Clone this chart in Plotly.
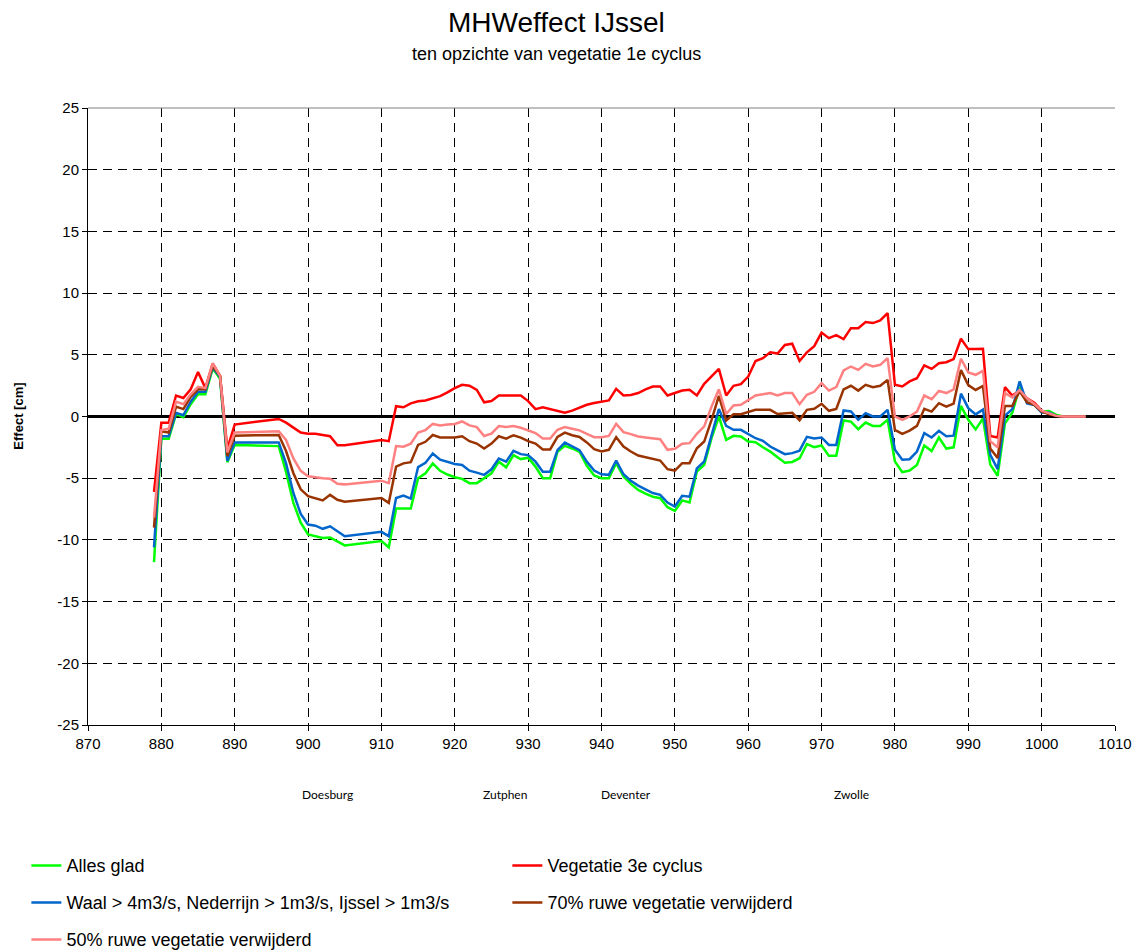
import plotly.graph_objects as go

# ---------------- data ----------------
km = [879, 880, 881, 882, 883, 884, 885, 886, 887, 888, 889, 890,
      896, 897, 898, 899, 900, 901, 902, 903, 904, 905,
      910, 911, 912, 913, 914, 915, 916, 917, 918, 919,
      920, 921, 922, 923, 924, 925, 926, 927, 928, 929,
      930, 931, 932, 933, 934, 935, 936, 937, 938, 939,
      940, 941, 942, 943, 944, 945, 946, 947, 948, 949,
      950, 951, 952, 953, 954, 955, 956, 957, 958, 959,
      960, 961, 962, 963, 964, 965, 966, 967, 968, 969,
      970, 971, 972, 973, 974, 975, 976, 977, 978, 979,
      980, 981, 982, 983, 984, 985, 986, 987, 988, 989,
      990, 991, 992, 993, 994, 995, 996, 997, 998, 999,
      1000, 1001, 1002, 1003, 1004, 1005, 1006]

alles_glad = [-11.8, -1.8, -1.8, 0.2, -0.05, 1.0, 1.8, 1.8, 3.9, 3.05, -3.7, -2.3,
              -2.4, -4.5, -7.0, -8.6, -9.55, -9.7, -9.85, -9.8, -10.1, -10.45,
              -10.1, -10.6, -7.45, -7.45, -7.45, -5.0, -4.6, -3.8, -4.4, -4.7,
              -4.92, -5.05, -5.4, -5.4, -5.0, -4.6, -3.66, -4.12, -3.13, -3.45,
              -3.34, -4.06, -5.0, -5.0, -2.86, -2.38, -2.59, -2.86, -4.0, -4.78,
              -5.0, -5.0, -3.78, -4.86, -5.46, -5.95, -6.25, -6.5, -6.62, -7.35,
              -7.65, -6.8, -6.97, -4.46, -3.92, -1.76, 0.0, -1.89, -1.57, -1.62,
              -2.03, -2.08, -2.49, -2.84, -3.3, -3.75, -3.68, -3.38, -2.23, -2.49,
              -2.35, -3.19, -3.19, -0.32, -0.41, -1.03, -0.49, -0.76, -0.76, -0.27,
              -3.65, -4.51, -4.38, -3.92, -2.35, -2.8, -1.7, -2.6, -2.5, 0.86,
              -0.27, -1.05, -0.16, -3.9, -4.8, -0.56, 0.3, 2.4, 1.15, 0.94,
              0.4, 0.45, 0.13, 0.0, 0.0, 0.0, 0.0]

vegetatie_3e = [-6.1, -0.5, -0.5, 1.7, 1.5, 2.2, 3.6, 2.3, 4.3, 3.3, -2.6, -0.65,
                -0.2, -0.5, -0.9, -1.3, -1.4, -1.4, -1.5, -1.6, -2.33, -2.33,
                -1.9, -2.0, 0.83, 0.75, 1.07, 1.23, 1.3, 1.45, 1.65, 1.95,
                2.3, 2.57, 2.5, 2.15, 1.15, 1.25, 1.7, 1.7, 1.7, 1.7,
                1.25, 0.6, 0.75, 0.6, 0.43, 0.3, 0.48, 0.7, 0.95, 1.1,
                1.2, 1.3, 2.24, 1.7, 1.75, 1.9, 2.2, 2.43, 2.43, 1.7,
                1.9, 2.1, 2.16, 1.7, 2.65, 3.24, 3.86, 1.7, 2.49, 2.62,
                3.24, 4.5, 4.73, 5.2, 5.1, 5.8, 5.9, 4.5, 5.2, 5.7,
                6.8, 6.35, 6.6, 6.27, 7.16, 7.16, 7.65, 7.57, 7.78, 8.38,
                2.57, 2.43, 2.84, 3.1, 4.14, 3.86, 4.32, 4.4, 4.65, 6.3,
                5.46, 5.46, 5.49, -1.57, -1.7, 2.38, 1.7, 2.1, 1.48, 1.12,
                0.48, 0.21, 0.05, 0.0, 0.0, 0.0, 0.0]

waal = [-10.6, -1.6, -1.6, 0.3, 0.1, 1.2, 2.0, 2.0, 4.0, 3.2, -3.6, -2.1,
        -2.1, -3.8, -6.2, -7.9, -8.75, -8.85, -9.1, -8.9, -9.3, -9.7,
        -9.35, -9.7, -6.6, -6.4, -6.65, -4.1, -3.75, -3.0, -3.5, -3.7,
        -3.85, -3.93, -4.39, -4.55, -4.73, -4.28, -3.4, -3.66, -2.78, -3.05,
        -3.13, -3.66, -4.47, -4.47, -2.73, -2.11, -2.41, -2.73, -3.66, -4.38,
        -4.68, -4.73, -3.57, -4.68, -5.2, -5.6, -5.9, -6.2, -6.35, -6.97,
        -7.3, -6.43, -6.5, -4.2, -3.65, -1.57, 0.6, -0.76, -1.08, -1.08,
        -1.4, -1.76, -1.97, -2.43, -2.75, -3.05, -2.97, -2.77, -1.65, -1.78,
        -1.7, -2.3, -2.3, 0.49, 0.41, -0.27, 0.27, 0.0, 0.0, 0.54,
        -2.7, -3.51, -3.46, -2.84, -1.35, -1.7, -1.16, -1.6, -1.55, 1.85,
        0.68, 0.17, 0.56, -3.1, -4.27, 0.07, 0.6, 2.85, 1.06, 0.94,
        0.32, 0.32, 0.05, 0.0, 0.0, 0.0, 0.0]

ruw_70 = [-9.0, -1.2, -1.3, 0.8, 0.6, 1.6, 2.2, 2.2, 4.1, 3.3, -3.2, -1.55,
          -1.5, -2.8, -4.6, -5.9, -6.45, -6.6, -6.8, -6.35, -6.75, -6.9,
          -6.6, -7.0, -4.06, -3.8, -3.7, -2.3, -2.05, -1.5, -1.7, -1.7,
          -1.71, -1.6, -2.0, -2.19, -2.59, -2.19, -1.6, -1.79, -1.52, -1.71,
          -2.0, -2.19, -2.67, -2.67, -1.66, -1.31, -1.52, -1.66, -2.1, -2.65,
          -2.84, -2.7, -1.68, -2.43, -2.84, -3.16, -3.3, -3.4, -3.57, -4.27,
          -4.38, -3.78, -3.78, -2.57, -2.03, -0.27, 1.68, -0.32, 0.19, 0.19,
          0.35, 0.54, 0.54, 0.54, 0.2, 0.22, 0.3, -0.3, 0.54, 0.62,
          1.03, 0.46, 0.62, 2.2, 2.49, 2.1, 2.57, 2.38, 2.49, 2.97,
          -1.08, -1.4, -1.14, -0.76, 0.62, 0.4, 1.08, 0.8, 1.05, 3.76,
          2.55, 2.15, 2.47, -2.6, -3.36, 0.86, 0.86, 2.05, 1.15, 0.94,
          0.4, 0.2, 0.05, 0.0, 0.0, 0.0, 0.0]

ruw_50 = [-8.2, -1.1, -1.0, 1.2, 1.0, 1.8, 2.4, 2.3, 4.3, 3.3, -2.9, -1.3,
          -1.2, -1.9, -3.4, -4.4, -4.85, -4.95, -5.0, -5.05, -5.45, -5.5,
          -5.2, -5.4, -2.4, -2.45, -2.2, -1.3, -1.1, -0.6, -0.72, -0.65,
          -0.6, -0.4, -0.72, -0.86, -1.58, -1.39, -0.78, -0.86, -0.78, -0.91,
          -1.12, -1.34, -1.79, -1.79, -1.07, -0.86, -0.99, -1.12, -1.4, -1.68,
          -1.68, -1.57, -0.6, -1.27, -1.43, -1.62, -1.7, -1.76, -1.84, -2.7,
          -2.62, -2.2, -2.16, -1.4, -0.8, 0.8, 2.2, 0.2, 0.9, 0.95,
          1.35, 1.7, 1.8, 1.9, 1.7, 1.9, 1.9, 1.0, 1.76, 2.0,
          2.7, 2.1, 2.38, 3.73, 4.05, 3.78, 4.27, 4.05, 4.19, 4.73,
          0.0, -0.27, 0.0, 0.4, 1.7, 1.4, 2.08, 1.9, 2.2, 4.68,
          3.57, 3.38, 3.7, -2.0, -2.5, 1.9, 1.55, 2.15, 1.47, 1.02,
          0.48, 0.27, 0.05, 0.0, 0.0, 0.0, 0.0]

series_names = ["Alles glad", "Vegetatie 3e cyclus",
                "Waal > 4m3/s, Nederrijn > 1m3/s, Ijssel > 1m3/s",
                "70% ruwe vegetatie verwijderd", "50% ruwe vegetatie verwijderd"]
series_values = [alles_glad, vegetatie_3e, waal, ruw_70, ruw_50]
series_colors = ["#00FF00", "#FF0000", "#0066CC", "#993300", "#FF8080"]
series_legend = ["legend", "legend", "legend2", "legend2", "legend3"]

city_names = ["Doesburg", "Zutphen", "Deventer", "Zwolle"]
city_km = [902.6, 926.8, 943.3, 974.1]

x_ticks = [870, 880, 890, 900, 910, 920, 930, 940, 950, 960, 970, 980, 990, 1000, 1010]
y_ticks = [25, 20, 15, 10, 5, 0, -5, -10, -15, -20, -25]

FONT = "Liberation Sans, Arial, sans-serif"

fig = go.Figure()
for name, vals, col, lg in zip(series_names, series_values, series_colors, series_legend):
    fig.add_trace(go.Scatter(x=km, y=vals, mode="lines", name=name,
                             line=dict(color=col, width=2.5), legend=lg))

legend_common = dict(orientation="h", xanchor="left", yanchor="middle", x=-0.06,
                     entrywidth=436, entrywidthmode="pixels",
                     font=dict(family=FONT, size=18, color="#000"),
                     bgcolor="rgba(0,0,0,0)", traceorder="normal")

annotations = [
    dict(text="MHWeffect IJssel", xref="paper", yref="paper", x=0.4557, y=1.138,
         xanchor="center", yanchor="middle", showarrow=False,
         font=dict(family=FONT, size=28, color="#000")),
    dict(text="ten opzichte van vegetatie 1e cyclus", xref="paper", yref="paper",
         x=0.4557, y=1.088, xanchor="center", yanchor="middle", showarrow=False,
         font=dict(family=FONT, size=18, color="#000")),
    dict(text="<b>Effect [cm]</b>", xref="paper", yref="paper", x=-0.068, y=0.5,
         xanchor="center", yanchor="middle", textangle=-90, showarrow=False,
         font=dict(family=FONT, size=13, color="#000")),
]
for cname, ck in zip(city_names, city_km):
    annotations.append(dict(text=cname, xref="x", yref="paper", x=ck, y=-0.112,
                            xanchor="center", yanchor="middle", showarrow=False,
                            font=dict(family="Lato, Open Sans, sans-serif", size=12, color="#000")))

fig.update_layout(
    width=1132, height=943,
    margin=dict(l=80, r=25, t=100, b=226, autoexpand=False),
    paper_bgcolor="white", plot_bgcolor="white",
    font=dict(family=FONT, size=15, color="#000"),
    showlegend=True,
    legend=dict(legend_common, y=-0.228),
    legend2=dict(legend_common, y=-0.288),
    legend3=dict(legend_common, y=-0.348),
    annotations=annotations,
    xaxis=dict(range=[870, 1010], tickvals=x_ticks, ticktext=[str(v) for v in x_ticks],
               showgrid=True, gridcolor="#000000", gridwidth=1, griddash="9px,6px",
               showline=True, linecolor="#000000", linewidth=1,
               ticks="outside", ticklen=5, tickcolor="#000000",
               zeroline=False, tickfont=dict(family=FONT, size=15)),
    yaxis=dict(range=[-25, 25], tickvals=y_ticks, ticktext=[str(v) for v in y_ticks],
               showgrid=True, gridcolor="#000000", gridwidth=1, griddash="9px,6px",
               showline=True, linecolor="#000000", linewidth=1,
               ticks="outside", ticklen=5, tickcolor="#000000",
               zeroline=True, zerolinecolor="#000000", zerolinewidth=2.5,
               tickfont=dict(family=FONT, size=15)),
    shapes=[dict(type="line", xref="paper", yref="paper", x0=0, x1=1, y0=1, y1=1,
                 line=dict(color="#808080", width=1))],
)

fig.write_html("out.html")
